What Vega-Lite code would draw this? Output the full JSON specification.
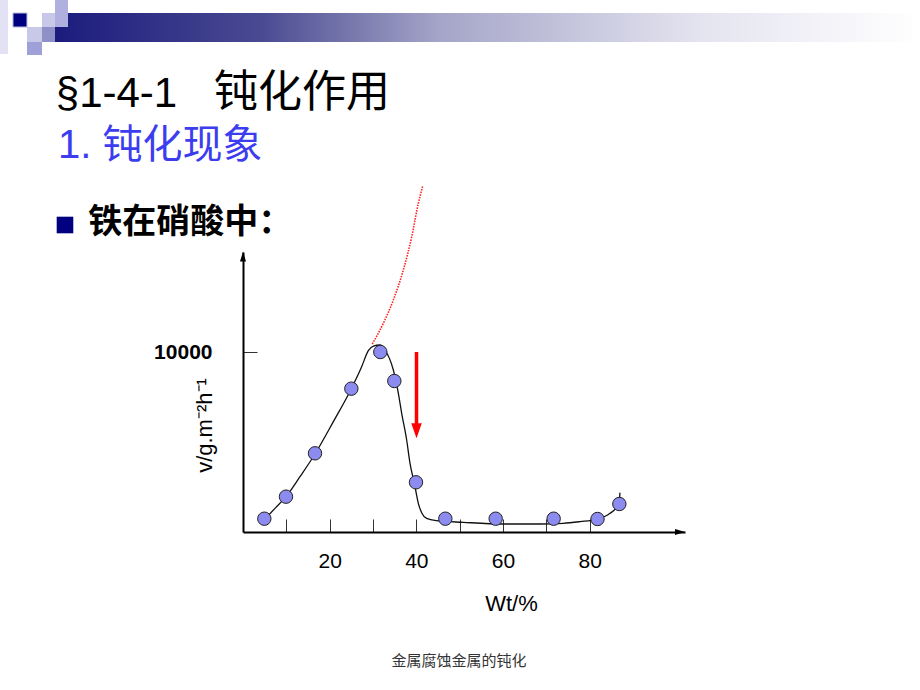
{
  "$schema": "https://vega.github.io/schema/vega-lite/v6.json",
  "autosize": {"type": "none"},
  "width": 442,
  "height": 280,
  "padding": {"left": 243, "top": 252, "right": 235, "bottom": 158},
  "background": "white",
  "config": {"view": {"stroke": null}},
  "data": {"values": [{"one": 1}]},
  "datasets": {
    "curve": [
      {"wt": 4.92, "v": 667}, {"wt": 7.38, "v": 1315}, {"wt": 9.92, "v": 1963}, {"wt": 13.15, "v": 3074},
      {"wt": 16.62, "v": 4333}, {"wt": 20.85, "v": 6130}, {"wt": 25.0, "v": 7963}, {"wt": 27.38, "v": 9185},
      {"wt": 28.92, "v": 10074}, {"wt": 30.08, "v": 10333}, {"wt": 31.62, "v": 10389}, {"wt": 32.77, "v": 10111},
      {"wt": 34.69, "v": 9000}, {"wt": 35.85, "v": 7704}, {"wt": 36.62, "v": 6593}, {"wt": 37.77, "v": 5111},
      {"wt": 38.54, "v": 3815}, {"wt": 39.54, "v": 2704}, {"wt": 40.46, "v": 1593}, {"wt": 41.23, "v": 1074},
      {"wt": 42.38, "v": 759}, {"wt": 44.69, "v": 630}, {"wt": 50.85, "v": 537}, {"wt": 60.08, "v": 444},
      {"wt": 68.54, "v": 444}, {"wt": 73.92, "v": 481}, {"wt": 77.77, "v": 574}, {"wt": 81.62, "v": 704},
      {"wt": 84.69, "v": 1037}, {"wt": 86.23, "v": 1404}, {"wt": 86.88, "v": 1870}, {"wt": 87.0, "v": 2185}
    ],
    "redline": [
      {"wt": 29.84, "v": 10444}, {"wt": 32.38, "v": 11594}, {"wt": 34.69, "v": 12889}, {"wt": 37.0, "v": 14556},
      {"wt": 38.94, "v": 16406}, {"wt": 40.46, "v": 18261}, {"wt": 41.48, "v": 19222}
    ],
    "points": [
      {"wt": 4.92, "v": 739}, {"wt": 9.92, "v": 1963}, {"wt": 16.62, "v": 4372}, {"wt": 25.0, "v": 7963},
      {"wt": 31.69, "v": 10000}, {"wt": 34.92, "v": 8389}, {"wt": 39.92, "v": 2761}, {"wt": 46.69, "v": 739},
      {"wt": 58.31, "v": 739}, {"wt": 71.69, "v": 739}, {"wt": 81.81, "v": 722}, {"wt": 86.85, "v": 1556}
    ]
  },
  "layer": [
    {
      "mark": {"type": "rect", "fill": {"gradient": "linear", "x1": 0, "y1": 0, "x2": 1, "y2": 0,
        "stops": [{"offset": 0, "color": "#18187c"}, {"offset": 0.25, "color": "#4a4a92"}, {"offset": 0.45, "color": "#a4a4c8"}, {"offset": 0.75, "color": "#e4e4f0"}, {"offset": 1, "color": "#ffffff"}]}},
      "encoding": {
        "x": {"datum": -46.38, "type": "quantitative"},
        "x2": {"datum": 156.23},
        "y": {"datum": 28833, "type": "quantitative"},
        "y2": {"datum": 27222}
      }
    },
    {
      "mark": {"type": "rect", "fill": "#e2e2f4"},
      "encoding": {
        "x": {"datum": -56.08, "type": "quantitative"}, "x2": {"datum": -54.23},
        "y": {"datum": 29556, "type": "quantitative"}, "y2": {"datum": 26556}
      }
    },
    {
      "mark": {"type": "rect", "fill": "#000080", "stroke": "#b8b8e0", "strokeWidth": 1},
      "encoding": {
        "x": {"datum": -53.08, "type": "quantitative"}, "x2": {"datum": -49.85},
        "y": {"datum": 28833, "type": "quantitative"}, "y2": {"datum": 28056}
      }
    },
    {
      "mark": {"type": "rect", "fill": "#c8c8e8"},
      "encoding": {
        "x": {"datum": -46.38, "type": "quantitative"}, "x2": {"datum": -43.38},
        "y": {"datum": 28833, "type": "quantitative"}, "y2": {"datum": 28056}
      }
    },
    {
      "mark": {"type": "rect", "fill": "#b0b0e0"},
      "encoding": {
        "x": {"datum": -43.38, "type": "quantitative"}, "x2": {"datum": -40.38},
        "y": {"datum": 29556, "type": "quantitative"}, "y2": {"datum": 28056}
      }
    },
    {
      "mark": {"type": "rect", "fill": "#9090c8"},
      "encoding": {
        "x": {"datum": -46.38, "type": "quantitative"}, "x2": {"datum": -43.38},
        "y": {"datum": 28056, "type": "quantitative"}, "y2": {"datum": 27222}
      }
    },
    {
      "mark": {"type": "rect", "fill": "#c8c8e8"},
      "encoding": {
        "x": {"datum": -49.85, "type": "quantitative"}, "x2": {"datum": -46.38},
        "y": {"datum": 28056, "type": "quantitative"}, "y2": {"datum": 27222}
      }
    },
    {
      "mark": {"type": "rect", "fill": "#a0a0d8"},
      "encoding": {
        "x": {"datum": -49.85, "type": "quantitative"}, "x2": {"datum": -46.38},
        "y": {"datum": 27222, "type": "quantitative"}, "y2": {"datum": 26500}
      }
    },
    {
      "data": {"name": "curve"},
      "mark": {"type": "line", "color": "#111111", "strokeWidth": 1.3, "interpolate": "monotone"},
      "encoding": {
        "x": {"field": "wt", "type": "quantitative", "scale": {"domain": [0, 102], "nice": false, "zero": false},
          "axis": {"values": [10, 20, 30, 40, 50, 60, 70, 80], "labelExpr": "datum.value % 20 == 0 ? datum.label : ''",
            "grid": false, "domainColor": "#000000", "domainWidth": 2, "tickColor": "#333333", "tickWidth": 1, "tickSize": -13,
            "labelFont": "Liberation Sans", "labelFontSize": 21, "labelColor": "#000000", "labelPadding": 48, "labelBaseline": "alphabetic",
            "title": "Wt/%", "titleFont": "Liberation Sans", "titleFontSize": 22, "titleFontWeight": "normal", "titleColor": "#000000",
            "titleX": 268, "titleY": 78, "titleAlign": "center", "titleBaseline": "alphabetic"}},
        "y": {"field": "v", "type": "quantitative", "scale": {"domain": [0, 15556], "nice": false, "zero": false},
          "axis": {"values": [10000], "format": "d", "grid": false, "domainColor": "#000000", "domainWidth": 2,
            "tickColor": "#333333", "tickWidth": 1, "tickSize": -14,
            "labelFont": "Liberation Sans", "labelFontSize": 21, "labelFontWeight": "bold", "labelColor": "#000000", "labelPadding": 45,
            "title": "v/g.m⁻²h⁻¹", "titleFont": "Liberation Sans", "titleFontSize": 22, "titleFontWeight": "normal", "titleColor": "#000000",
            "titleAngle": 270, "titleX": -32, "titleY": 173, "titleAlign": "center", "titleBaseline": "alphabetic"}}
      }
    },
    {
      "data": {"name": "redline"},
      "mark": {"type": "line", "color": "#ff2020", "strokeWidth": 1.6, "strokeDash": [1.5, 1.2], "interpolate": "monotone"},
      "encoding": {
        "x": {"field": "wt", "type": "quantitative"},
        "y": {"field": "v", "type": "quantitative"}
      }
    },
    {
      "data": {"name": "points"},
      "mark": {"type": "circle", "fill": "#8c8cf0", "stroke": "#222222", "strokeWidth": 1, "size": 180, "opacity": 1},
      "encoding": {
        "x": {"field": "wt", "type": "quantitative"},
        "y": {"field": "v", "type": "quantitative"}
      }
    },
    {
      "mark": {"type": "rule", "color": "#ff0000", "strokeWidth": 3.5},
      "encoding": {
        "x": {"datum": 40.04, "type": "quantitative"},
        "y": {"datum": 10000, "type": "quantitative"},
        "y2": {"datum": 5889}
      }
    },
    {
      "mark": {"type": "point", "shape": "M-0.7,-1L0.7,-1L0,1Z", "filled": true, "color": "#ff0000", "size": 225, "opacity": 1},
      "encoding": {
        "x": {"datum": 40.04, "type": "quantitative"},
        "y": {"datum": 5622, "type": "quantitative"}
      }
    },
    {
      "mark": {"type": "point", "shape": "M0,-1L0.6,1L-0.6,1Z", "filled": true, "color": "#000000", "size": 100, "opacity": 1},
      "encoding": {
        "x": {"datum": 0, "type": "quantitative"},
        "y": {"datum": 15300, "type": "quantitative"}
      }
    },
    {
      "mark": {"type": "point", "shape": "M1,0L-1,-0.6L-1,0.6Z", "filled": true, "color": "#000000", "size": 100, "opacity": 1},
      "encoding": {
        "x": {"datum": 100.85, "type": "quantitative"},
        "y": {"datum": 0, "type": "quantitative"}
      }
    },
    {
      "mark": {"type": "text", "text": "§1-4-1", "font": "Liberation Sans", "fontSize": 42, "color": "#000000", "align": "left", "baseline": "alphabetic"},
      "encoding": {
        "x": {"datum": -43.2, "type": "quantitative"},
        "y": {"datum": 23611, "type": "quantitative"}
      }
    },
    {
      "mark": {"type": "text", "text": "钝化作用", "font": "Noto Sans CJK SC", "fontSize": 44, "color": "#000000", "align": "left", "baseline": "alphabetic"},
      "encoding": {
        "x": {"datum": -6.7, "type": "quantitative"},
        "y": {"datum": 23611, "type": "quantitative"}
      }
    },
    {
      "mark": {"type": "text", "text": "1. 钝化现象", "font": "Liberation Sans, Noto Sans CJK SC", "fontSize": 40, "color": "#3d3df0", "align": "left", "baseline": "alphabetic"},
      "encoding": {
        "x": {"datum": -42.7, "type": "quantitative"},
        "y": {"datum": 20778, "type": "quantitative"}
      }
    },
    {
      "mark": {"type": "point", "shape": "square", "filled": true, "color": "#000080", "size": 276, "opacity": 1},
      "encoding": {
        "x": {"datum": -41.08, "type": "quantitative"},
        "y": {"datum": 17056, "type": "quantitative"}
      }
    },
    {
      "mark": {"type": "text", "text": "铁在硝酸中：", "font": "Noto Sans CJK SC", "fontSize": 34, "fontWeight": "bold", "color": "#000000", "align": "left", "baseline": "alphabetic"},
      "encoding": {
        "x": {"datum": -35.7, "type": "quantitative"},
        "y": {"datum": 16611, "type": "quantitative"}
      }
    },
    {
      "mark": {"type": "text", "text": "金属腐蚀金属的钝化", "font": "Noto Sans CJK SC", "fontSize": 15, "color": "#333333", "align": "center", "baseline": "alphabetic"},
      "encoding": {
        "x": {"datum": 49.85, "type": "quantitative"},
        "y": {"datum": -7444, "type": "quantitative"}
      }
    }
  ]
}
